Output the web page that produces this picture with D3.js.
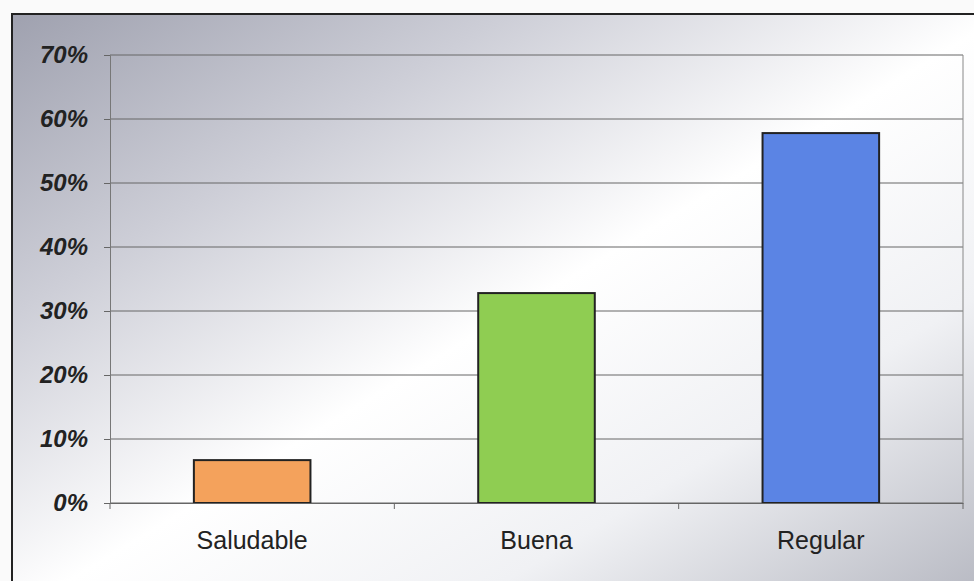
<!DOCTYPE html>
<html><head><meta charset="utf-8">
<script src="https://cdn.jsdelivr.net/npm/d3@7"></script>
<style>html,body{margin:0;padding:0;background:#fff;}svg{display:block;}</style>
</head><body>
<svg id="c" width="974" height="581"></svg>
<script>
const categories = ["Saludable", "Buena", "Regular"];
const values = [6.7, 32.8, 57.8];
const colors = ["#f4a25c", "#8fcd52", "#5b84e4"];
const yTicks = [0, 10, 20, 30, 40, 50, 60, 70];

(function(){
const svg = d3.select("#c");
const W = 974, H = 581;
const defs = svg.append("defs");
const g = defs.append("linearGradient").attr("id","bg")
  .attr("x1","0").attr("y1","0").attr("x2","1").attr("y2","1");
g.append("stop").attr("offset","0").attr("stop-color","#9fa1af");
g.append("stop").attr("offset","0.25").attr("stop-color","#cdced7");
g.append("stop").attr("offset","0.5").attr("stop-color","#ffffff");
g.append("stop").attr("offset","0.72").attr("stop-color","#f0f1f4");
g.append("stop").attr("offset","1").attr("stop-color","#b0b2bc");

svg.append("rect").attr("x",0).attr("y",0).attr("width",W).attr("height",H).attr("fill","#fafafa");
svg.append("rect").attr("x",12).attr("y",14).attr("width",W+20).attr("height",H+20)
  .attr("fill","url(#bg)").attr("stroke","#222").attr("stroke-width",2);

const mLeft = 110, mRight = 963, mTop = 55, mBottom = 503;
const x = d3.scaleBand().domain(categories).range([mLeft, mRight]).paddingInner(0.59).paddingOuter(0.295);
const y = d3.scaleLinear().domain([0, 70]).range([mBottom, mTop]);

svg.append("g").selectAll("line").data(yTicks).join("line")
  .attr("x1", mLeft).attr("x2", mRight)
  .attr("y1", d => y(d)).attr("y2", d => y(d))
  .attr("stroke", "#666").attr("stroke-width", 1);
svg.append("line").attr("x1",mRight).attr("x2",mRight).attr("y1",mTop).attr("y2",mBottom)
  .attr("stroke","#888").attr("stroke-width",1);

const ya = svg.append("g").attr("transform",`translate(${mLeft},0)`)
  .call(d3.axisLeft(y).tickValues(yTicks).tickSize(6).tickPadding(16).tickFormat(d => d + "%"));
ya.select(".domain").attr("stroke","#777");
ya.selectAll(".tick line").attr("stroke","#666");
ya.selectAll("text").attr("font-family","Liberation Sans, Arial, sans-serif")
  .attr("font-size",24).attr("font-weight","bold").attr("font-style","italic").attr("fill","#222");

svg.append("g").selectAll("rect").data(values).join("rect")
  .attr("x", (d,i) => x(categories[i]))
  .attr("width", x.bandwidth())
  .attr("y", d => y(d))
  .attr("height", d => y(0) - y(d))
  .attr("fill", (d,i) => colors[i])
  .attr("stroke", "#222").attr("stroke-width", 2);

const xa = svg.append("g").attr("transform",`translate(0,${mBottom})`)
  .call(d3.axisBottom(x).tickSize(0).tickPadding(28));
xa.select(".domain").attr("stroke","#666");
xa.selectAll("text").attr("font-family","Liberation Sans, Arial, sans-serif")
  .attr("font-size",25).attr("fill","#222");
const bounds = [0,1,2,3].map(i => mLeft + i * (mRight-mLeft)/3);
svg.append("g").selectAll("line").data(bounds).join("line")
  .attr("x1", d => d).attr("x2", d => d).attr("y1", mBottom).attr("y2", mBottom + 6)
  .attr("stroke","#666");
})();
</script>
</body></html>
